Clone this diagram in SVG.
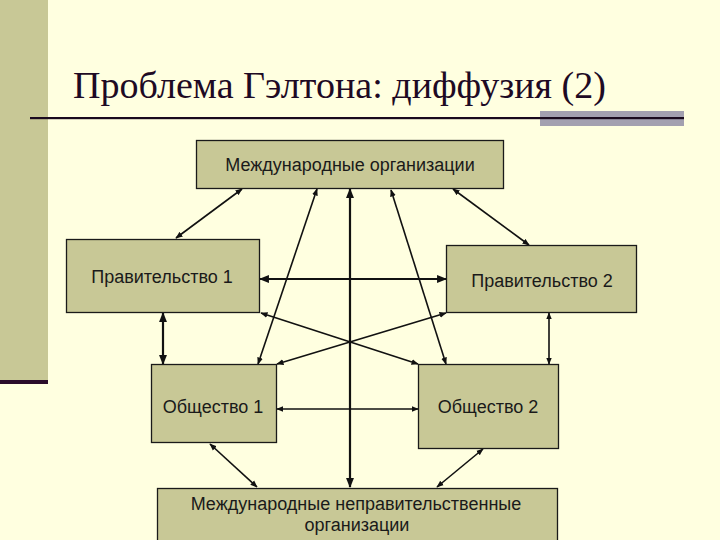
<svg xmlns="http://www.w3.org/2000/svg" width="720" height="540" viewBox="0 0 720 540">
<defs>
<style>
.box{fill:#c8c896;stroke:#1a1a1a;stroke-width:1.3}
.lbl{font-family:"Liberation Sans",Arial,sans-serif;font-size:18px;fill:#1a1a1a;text-anchor:middle}
.c{stroke:#111;stroke-width:1.6;fill:none;marker-start:url(#ah);marker-end:url(#ah)}
.t{stroke-width:2.2}
</style>
<marker id="ah" viewBox="0 0 10 10" refX="9" refY="5" markerWidth="4.5" markerHeight="4.5" orient="auto-start-reverse" markerUnits="strokeWidth">
<path d="M0,1 L10,5 L0,9 z" fill="#111"/>
</marker>
</defs>
<rect x="0" y="0" width="720" height="540" fill="#ffffe0"/>
<rect x="0" y="0" width="48" height="381" fill="#c8c896"/>
<rect x="0" y="380" width="48" height="4" fill="#2a0c2a"/>
<text x="73" y="98" font-family="'Liberation Serif','Times New Roman',serif" font-size="37" fill="#1e0a24" textLength="533" lengthAdjust="spacingAndGlyphs">Проблема Гэлтона: диффузия (2)</text>
<rect x="540" y="111" width="144" height="15" fill="#a3a0b0"/>
<rect x="30" y="117" width="654" height="2.2" fill="#1a0a1e"/>

<g id="connectors">
<line class="c" x1="242" y1="189" x2="176" y2="238"/>
<line class="c" x1="317" y1="189" x2="258" y2="364"/>
<line class="c t" x1="350" y1="189" x2="350" y2="487"/>
<line class="c" x1="391" y1="190" x2="446" y2="364"/>
<line class="c" x1="453" y1="189" x2="529" y2="245"/>
<line class="c t" x1="260" y1="279" x2="446" y2="279"/>
<line class="c" x1="261" y1="313" x2="418" y2="364"/>
<line class="c" x1="446" y1="313" x2="277" y2="364"/>
<line class="c t" x1="163" y1="313" x2="163" y2="364"/>
<line class="c" x1="549" y1="313" x2="549" y2="364"/>
<line class="c" x1="277" y1="409" x2="418" y2="409"/>
<line class="c" x1="210" y1="444" x2="257" y2="487"/>
<line class="c" x1="483" y1="449" x2="437" y2="487"/>
</g>

<g id="io">
<rect class="box" x="196.5" y="140.5" width="307" height="48"/>
<text class="lbl" x="350" y="171">Международные организации</text>
</g>
<g id="gov1">
<rect class="box" x="66.5" y="239.5" width="193" height="73"/>
<text class="lbl" x="162" y="283">Правительство 1</text>
</g>
<g id="gov2">
<rect class="box" x="446.5" y="245.5" width="190" height="67"/>
<text class="lbl" x="542" y="287">Правительство 2</text>
</g>
<g id="soc1">
<rect class="box" x="151.5" y="364.5" width="125" height="78"/>
<text class="lbl" x="213" y="413">Общество 1</text>
</g>
<g id="soc2">
<rect class="box" x="418.5" y="364.5" width="140" height="84"/>
<text class="lbl" x="488" y="413">Общество 2</text>
</g>
<g id="ngo">
<rect class="box" x="157.5" y="488.5" width="400" height="60"/>
<text class="lbl" x="356" y="510">Международные неправительственные</text>
<text class="lbl" x="357" y="531">организации</text>
</g>
</svg>
